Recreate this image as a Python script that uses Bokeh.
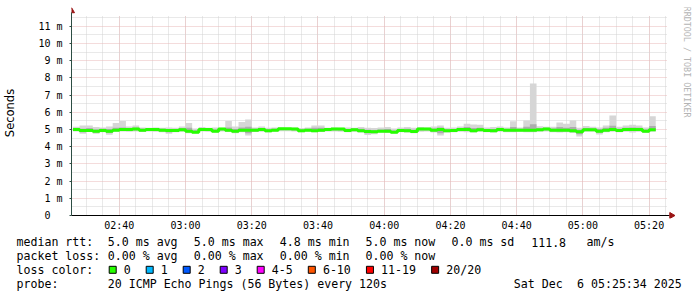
from math import pi
import pandas as pd
from bokeh.plotting import figure
from bokeh.layouts import column, row
from bokeh.models import (FixedTicker, DatetimeTickFormatter, ColumnDataSource)
from bokeh.core.properties import value
from bokeh.embed import file_html
from bokeh.resources import INLINE

# ---------------- data ----------------
view_start = "2025-12-06 02:25:34"
view_end = "2025-12-06 05:25:34"
first_step = "2025-12-06 02:26:00"
step_seconds = 120

median_ms = [5.00, 4.94, 4.94, 4.90, 4.94, 4.90, 4.96, 5.00, 5.00, 5.02,
             4.96, 5.00, 5.00, 4.96, 4.94, 4.94, 4.98, 4.90, 4.84, 5.00,
             5.00, 4.90, 5.02, 4.96, 4.90, 4.96, 4.96, 4.96, 5.00, 4.92,
             4.96, 5.04, 5.04, 5.02, 4.92, 4.96, 4.92, 4.96, 5.00, 5.02,
             5.02, 4.94, 4.98, 4.92, 4.88, 4.86, 4.90, 4.90, 4.84, 4.94,
             4.92, 4.88, 5.02, 5.02, 4.96, 5.00, 4.92, 4.94, 5.00, 5.00,
             4.92, 4.98, 4.94, 4.92, 5.00, 4.96, 4.96, 4.96, 4.96, 4.96,
             4.98, 5.02, 4.96, 4.96, 4.96, 4.92, 4.86, 4.98, 4.98, 4.90,
             4.96, 5.00, 4.94, 5.00, 5.00, 5.00, 4.90, 4.98]

smoke_hi_ms = [5.15, 5.23, 5.23, 5.14, 5.12, 5.17, 5.37, 5.49, 5.17, 5.23,
               5.12, 5.10, 5.12, 5.10, 5.12, 5.10, 5.17, 5.37, 5.05, 5.14,
               5.10, 5.12, 5.10, 5.49, 5.17, 5.43, 5.58, 5.12, 5.17, 5.10,
               5.12, 5.12, 5.10, 5.12, 5.08, 5.12, 5.23, 5.23, 5.10, 5.12,
               5.10, 5.12, 5.10, 5.14, 5.10, 5.08, 5.12, 5.14, 5.05, 5.12,
               5.14, 5.10, 5.14, 5.12, 5.17, 5.23, 5.10, 5.12, 5.17, 5.33,
               5.29, 5.27, 5.12, 5.14, 5.17, 5.12, 5.48, 5.12, 5.52, 7.67,
               5.19, 5.15, 5.15, 5.40, 5.33, 5.52, 5.10, 5.20, 5.15, 5.12,
               5.23, 5.81, 5.15, 5.23, 5.27, 5.23, 5.12, 5.77]

smoke_lo_ms = [4.88, 4.75, 4.86, 4.75, 4.84, 4.69, 4.86, 4.88, 4.86, 4.88,
               4.85, 4.88, 4.86, 4.84, 4.75, 4.84, 4.86, 4.78, 4.76, 4.88,
               4.86, 4.82, 4.88, 4.85, 4.78, 4.84, 4.65, 4.85, 4.86, 4.82,
               4.86, 4.90, 4.90, 4.88, 4.84, 4.86, 4.84, 4.85, 4.88, 4.88,
               4.86, 4.84, 4.86, 4.82, 4.68, 4.72, 4.82, 4.80, 4.76, 4.84,
               4.82, 4.78, 4.86, 4.88, 4.82, 4.65, 4.82, 4.84, 4.86, 4.84,
               4.82, 4.86, 4.84, 4.82, 4.86, 4.84, 4.84, 4.86, 4.84, 4.84,
               4.86, 4.88, 4.84, 4.82, 4.84, 4.80, 4.59, 4.86, 4.86, 4.71,
               4.84, 4.86, 4.84, 4.86, 4.82, 4.86, 4.80, 4.86]

core_hi_ms = [5.06, 5.04, 5.08, 5.00, 5.04, 5.02, 5.10, 5.12, 5.06, 5.10,
              5.04, 5.06, 5.05, 5.04, 5.02, 5.03, 5.08, 5.10, 4.95, 5.06,
              5.05, 5.00, 5.08, 5.12, 5.02, 5.12, 5.16, 5.04, 5.08, 5.00,
              5.04, 5.08, 5.08, 5.06, 5.00, 5.04, 5.10, 5.10, 5.05, 5.06,
              5.06, 5.02, 5.05, 5.04, 4.98, 4.96, 5.00, 5.02, 4.94, 5.02,
              5.04, 4.98, 5.08, 5.07, 5.06, 5.12, 5.00, 5.02, 5.08, 5.14,
              5.08, 5.10, 5.02, 5.03, 5.08, 5.02, 5.14, 5.04, 5.16, 5.30,
              5.06, 5.08, 5.06, 5.14, 5.10, 5.14, 4.98, 5.08, 5.06, 5.02,
              5.10, 5.22, 5.04, 5.10, 5.12, 5.10, 5.00, 5.20]

core_lo_ms = [4.94, 4.84, 4.88, 4.82, 4.90, 4.80, 4.92, 4.94, 4.92, 4.96,
              4.90, 4.94, 4.94, 4.90, 4.84, 4.90, 4.92, 4.84, 4.80, 4.94,
              4.92, 4.86, 4.96, 4.90, 4.84, 4.90, 4.78, 4.90, 4.94, 4.88,
              4.92, 4.98, 4.98, 4.96, 4.88, 4.92, 4.88, 4.90, 4.94, 4.96,
              4.94, 4.90, 4.92, 4.88, 4.78, 4.80, 4.86, 4.86, 4.80, 4.90,
              4.88, 4.84, 4.96, 4.96, 4.90, 4.78, 4.88, 4.90, 4.94, 4.92,
              4.88, 4.92, 4.90, 4.88, 4.94, 4.92, 4.90, 4.92, 4.90, 4.90,
              4.92, 4.96, 4.90, 4.88, 4.90, 4.86, 4.72, 4.92, 4.92, 4.82,
              4.90, 4.94, 4.90, 4.92, 4.92, 4.94, 4.86, 4.92]

y_tick_values = [0, 1, 2, 3, 4, 5, 6, 7, 8, 9, 10, 11]
y_tick_labels = ["0\u00a0\u00a0", "1 m", "2 m", "3 m", "4 m", "5 m", "6 m",
                 "7 m", "8 m", "9 m", "10 m", "11 m"]
x_tick_times = ["02:40", "03:00", "03:20", "03:40", "04:00", "04:20",
                "04:40", "05:00", "05:20"]
y_axis_title = "Seconds"
watermark = "RRDTOOL / TOBI OETIKER"

stats_rtt = ["median rtt:", "5.0 ms avg", "5.0 ms max", "4.8 ms min",
             "5.0 ms now", "0.0 ms sd", "111.8", "am/s"]
stats_loss = ["packet loss:", "0.00 % avg", "0.00 % max", "0.00 % min",
              "0.00 % now"]
loss_title = "loss color:"
loss_labels = ["0", "1", "2", "3", "4-5", "6-10", "11-19", "20/20"]
loss_colors = ["#26ff00", "#00b8ff", "#0059ff", "#7e00ff", "#ff00ff",
               "#ff5500", "#ff0000", "#a00000"]
probe_row = ["probe:", "20 ICMP Echo Pings (56 Bytes) every 120s",
             "Sat Dec", "6 05:25:34 2025"]

# ---------------- layout constants ----------------
W, H = 697, 297
MAIN_W, MAIN_H = 675, 236
FL, FT = 67, 7                 # frame left / top (canvas px)
AX_Y = 215                     # pixel row of the zero line
FB = 218                       # frame bottom
PX_PER_MS = 17.21
SEC_PER_PX = 18.0
PLOT_TOP = 200 / PX_PER_MS     # top of rrd plot area (ms)
MONO = "DejaVu Sans Mono"
LEG_SIZE = "11.6px"
TICK_SIZE = "10px"
MAJOR_GRID = "#e9b9b9"
MINOR_GRID = "#d2d2d2"
AXIS_COLOR = "#2c4d43"
ARROW_COLOR = "#9a1414"

t0 = pd.Timestamp(view_start)
t1 = pd.Timestamp(view_end)
px = pd.Timedelta(seconds=SEC_PER_PX)
n = len(median_ms)
starts = list(pd.date_range(first_step, periods=n + 1, freq=f"{step_seconds}s"))


def ext(vals):
    return list(vals) + [vals[-1]]


src = ColumnDataSource(dict(
    t=starts, med=ext(median_ms), shi=ext(smoke_hi_ms), slo=ext(smoke_lo_ms),
    chi=ext(core_hi_ms), clo=ext(core_lo_ms),
))

x_lo = t0
x_hi = t0 + (MAIN_W - FL) * px
y_lo = -(FB - AX_Y) / PX_PER_MS
y_hi = (AX_Y - FT) / PX_PER_MS

p = figure(width=MAIN_W, height=MAIN_H, x_axis_type="datetime",
           x_range=(x_lo, x_hi), y_range=(y_lo, y_hi),
           output_backend="svg", toolbar_location=None, title=None,
           min_border_left=FL, min_border_right=0,
           min_border_top=FT, min_border_bottom=MAIN_H - FB)
p.background_fill_color = "white"
p.border_fill_color = "white"
p.outline_line_color = None

# smoke and median
p.varea_step(x="t", y1="slo", y2="shi", source=src, step_mode="after",
             fill_color="#d6d6d6")
p.varea_step(x="t", y1="clo", y2="chi", source=src, step_mode="after",
             fill_color="#adadad")
p.step(x="t", y="med", source=src, mode="after", line_color="#26ff00",
       line_width=3)


def ms(ts):
    return pd.Timestamp(ts).value / 1e6


major_x = [ms(f"2025-12-06 {s}:00") for s in x_tick_times]
minor_x = [ms(t) for t in pd.date_range("2025-12-06 02:30", "2025-12-06 05:25", freq="5min")]
p.xaxis.ticker = FixedTicker(ticks=major_x, minor_ticks=minor_x)
p.xaxis.formatter = DatetimeTickFormatter(minsec="%H:%M", minutes="%H:%M",
                                          hourmin="%H:%M", hours="%H:%M")
minor_y = [v + 0.5 for v in y_tick_values]
p.yaxis.ticker = FixedTicker(ticks=y_tick_values, minor_ticks=minor_y)
p.yaxis.major_label_overrides = {v: s for v, s in zip(y_tick_values, y_tick_labels)}

for g in (p.xgrid, p.ygrid):
    g.grid_line_color = MAJOR_GRID
    g.grid_line_dash = "1 1"
    g.grid_line_width = 1
    g.minor_grid_line_color = MINOR_GRID
    g.minor_grid_line_dash = "1 1"
    g.minor_grid_line_width = 1
try:
    p.xgrid.cross_bounds = (0, PLOT_TOP)
    p.ygrid.cross_bounds = (ms(t0), ms(t1))
except Exception:
    pass

for ax in (p.xaxis, p.yaxis):
    ax.minor_tick_line_color = None
    ax.major_label_text_font = MONO
    ax.major_label_text_font_size = TICK_SIZE
    ax.major_label_text_color = "#000000"

# x axis: labels from Bokeh's axis, zero line drawn on the frame
p.xaxis.axis_line_color = None
p.xaxis.major_tick_line_color = None
p.xaxis.major_tick_out = 0
p.xaxis.major_tick_in = 0
p.xaxis.major_label_standoff = -3
p.segment(x0=[t0 - 2 * px], y0=[0], x1=[t0 + 602 * px], y1=[0],
          line_color="#000000", line_width=1)

p.yaxis.axis_line_color = AXIS_COLOR
p.yaxis.bounds = (0, (AX_Y - 12) / PX_PER_MS)
p.yaxis.major_tick_line_color = AXIS_COLOR
p.yaxis.major_tick_out = 2
p.yaxis.major_tick_in = 0
p.yaxis.major_label_standoff = 5
p.yaxis.axis_label = y_axis_title
p.yaxis.axis_label_text_font = "DejaVu Sans"
p.yaxis.axis_label_text_font_size = "11.5px"
p.yaxis.axis_label_text_font_style = "normal"
p.yaxis.axis_label_text_color = "#000000"
p.yaxis.axis_label_standoff = 18

# arrow heads
p.scatter(x=[t0], y=[(AX_Y - 10.5) / PX_PER_MS], marker="triangle", size=6,
          fill_color=ARROW_COLOR, line_color=ARROW_COLOR)
p.scatter(x=[t0 + 604 * px], y=[0], marker="triangle", size=6, angle=-pi / 2,
          fill_color=ARROW_COLOR, line_color=ARROW_COLOR)

# ---------------- watermark strip ----------------
wm = figure(width=W - MAIN_W, height=MAIN_H, x_range=(0, W - MAIN_W),
            y_range=(MAIN_H, 0), output_backend="svg", toolbar_location=None,
            title=None, min_border=0)
wm.axis.visible = False
wm.grid.visible = False
wm.outline_line_color = None
wm.background_fill_color = "white"
wm.border_fill_color = "white"
wm.text(x=[686.5 - MAIN_W], y=[-1], text=[watermark], angle=-pi / 2,
        text_font=value(MONO), text_font_size="8.4px", text_color="#b4b4b4",
        text_align="left", text_baseline="middle")

# ---------------- legend strip ----------------
LH = H - MAIN_H
leg = figure(width=W, height=LH, x_range=(0, W), y_range=(LH, 0),
             output_backend="svg", toolbar_location=None, title=None,
             min_border=0)
leg.axis.visible = False
leg.grid.visible = False
leg.outline_line_color = None
leg.background_fill_color = "white"
leg.border_fill_color = "white"

row_y = [241.7 - MAIN_H, 255.3 - MAIN_H, 269.3 - MAIN_H, 283.4 - MAIN_H]
rtt_x = [16, 107.3, 193.3, 279.3, 365, 451, 530.7, 586]
tx, ty, tt = [], [], []
for x, s in zip(rtt_x, stats_rtt):
    tx.append(x); ty.append(row_y[0]); tt.append(s)
for x, s in zip(rtt_x, stats_loss):
    tx.append(x); ty.append(row_y[1]); tt.append(s)
tx.append(16); ty.append(row_y[2]); tt.append(loss_title)
sq_l, sq_c = [], []
sx = 108.7
for lab, col in zip(loss_labels, loss_colors):
    sq_l.append(sx); sq_c.append(col)
    tx.append(sx + 14.6); ty.append(row_y[2]); tt.append(lab)
    sx += 14.6 + 7.05 * len(lab) + 15.35
for x, s in zip([16, 107.3, 513.3, 576.5], probe_row):
    tx.append(x); ty.append(row_y[3]); tt.append(s)

leg.text(x=tx, y=ty, text=tt, text_font=value(MONO), text_font_size=LEG_SIZE,
         text_color="#000000", text_align="left", text_baseline="middle")
leg.quad(left=sq_l, right=[v + 7 for v in sq_l],
         top=[row_y[2] - 3.5] * len(sq_l), bottom=[row_y[2] + 3.5] * len(sq_l),
         fill_color=sq_c, line_color="#000000", line_width=1)

layout = column(row(p, wm, spacing=0), leg, spacing=0)
open("out.html", "w").write(file_html(layout, INLINE))
